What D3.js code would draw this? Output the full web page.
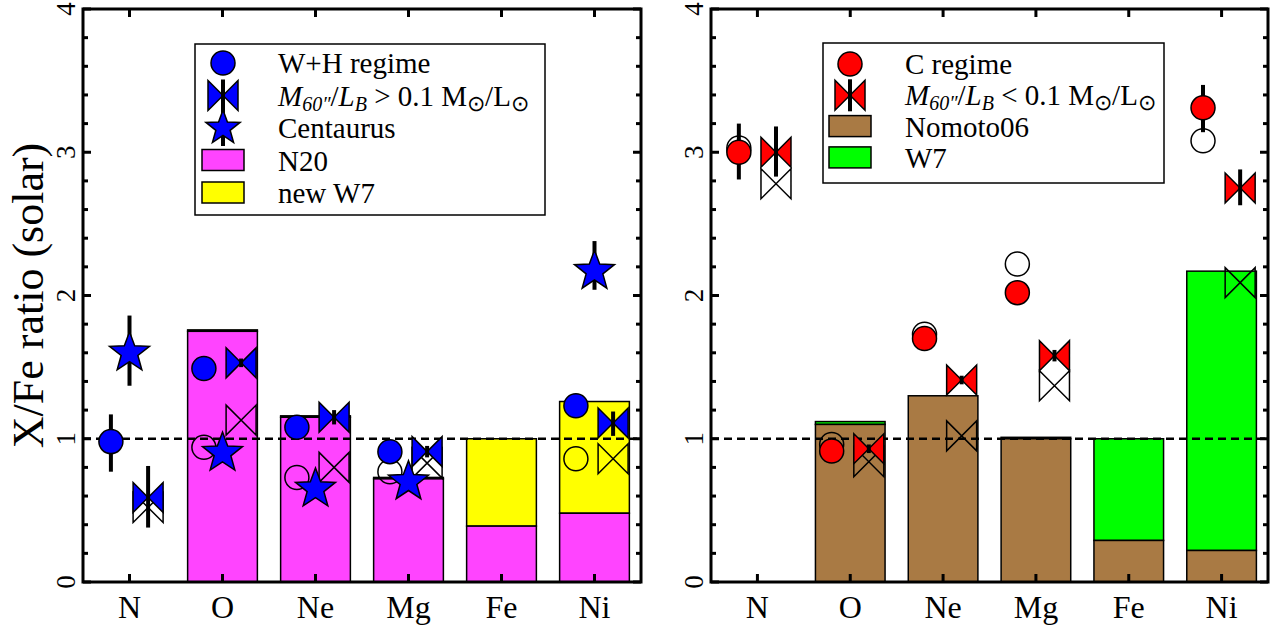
<!DOCTYPE html>
<html>
<head>
<meta charset="utf-8">
<title>X/Fe ratio</title>
<style>
  body { margin: 0; background: #fff; }
  text { font-family: "Liberation Serif", "Times New Roman", serif; fill: #000; }
</style>
</head>
<body>
<script src="https://cdnjs.cloudflare.com/ajax/libs/d3/7.8.5/d3.min.js"></script>
<script>
// categories and ticks
var elements = ["N", "O", "Ne", "Mg", "Fe", "Ni"];
var yTicks = [0, 1, 2, 3, 4];

// left panel: W+H regime, high M/L, Centaurus, N20 + new W7
var whCircle   = [0.98, 1.49, 1.08, 0.91, null, 1.23];
var whCircleLo = [0.77, 1.46, 1.05, 0.88, null, 1.20];
var whCircleHi = [1.17, 1.52, 1.11, 0.94, null, 1.26];
var whOpen     = [null, 0.94, 0.73, 0.77, null, 0.86];
var hiBow      = [0.59, 1.53, 1.15, 0.91, null, 1.11];
var hiBowLo    = [0.38, 1.50, 1.10, 0.87, null, 1.02];
var hiBowHi    = [0.81, 1.56, 1.20, 0.95, null, 1.19];
var hiBowOpen  = [0.52, 1.13, 0.80, 0.83, null, 0.86];
var centaurus   = [1.60, 0.90, 0.65, 0.70, null, 2.17];
var centaurusLo = [1.37, 0.86, 0.61, 0.66, null, 2.04];
var centaurusHi = [1.86, 0.94, 0.69, 0.74, null, 2.38];
var n20   = [null, 1.75, 1.15, 0.72, 0.39, 0.48];
var newW7 = [null, 1.76, 1.16, 0.73, 1.00, 1.26];

// right panel: C regime, low M/L, Nomoto06 + W7
var cCircle   = [3.00, 0.915, 1.70, 2.02, null, 3.31];
var cCircleLo = [2.81, 0.89, 1.68, 2.00, null, 3.14];
var cCircleHi = [3.20, 0.94, 1.72, 2.04, null, 3.47];
var cOpen     = [3.03, 0.96, 1.73, 2.22, null, 3.08];
var loBow     = [3.00, 0.93, 1.41, 1.58, null, 2.75];
var loBowLo   = [2.83, 0.90, 1.38, 1.54, null, 2.63];
var loBowHi   = [3.18, 0.96, 1.44, 1.62, null, 2.88];
var loBowOpen = [2.78, 0.84, 1.02, 1.37, null, 2.09];
var nomoto06 = [null, 1.10, 1.30, 1.00, 0.29, 0.22];
var w7       = [null, 1.12, 1.30, 1.01, 1.00, 2.17];

var W = 1282, H = 632;
var plotTop = 9, plotBottom = 582;

var svg = d3.select("body").append("svg")
    .attr("width", W).attr("height", H);

var y = d3.scaleLinear().domain([0, 4]).range([plotBottom, plotTop]);

function bowPath(s) {
  return "M" + (-s) + "," + (-s) + "L" + s + "," + s + "L" + s + "," + (-s) +
         "L" + (-s) + "," + s + "Z";
}
function starPath(R, r) {
  var p = [];
  for (var i = 0; i < 10; i++) {
    var a = -Math.PI / 2 + i * Math.PI / 5, rr = i % 2 ? r : R;
    p.push([rr * Math.cos(a), rr * Math.sin(a)]);
  }
  return "M" + p.map(function(d){ return d[0].toFixed(2) + "," + d[1].toFixed(2); }).join("L") + "Z";
}

function drawPanel(x0, x1, cfg) {
  var x = d3.scaleLinear().domain([0.5, 6.5]).range([x0, x1]);
  var bw = x(0.75) - x(0);
  var g = svg.append("g");

  // stacked bars: lower part then upper part
  elements.forEach(function(el, i) {
    if (cfg.low[i] == null) return;
    var cx = x(i + 1);
    g.append("rect").attr("x", cx - bw / 2).attr("width", bw)
      .attr("y", y(cfg.total[i])).attr("height", y(cfg.low[i]) - y(cfg.total[i]))
      .attr("fill", cfg.topColor).attr("stroke", "#000").attr("stroke-width", 1.5);
    g.append("rect").attr("x", cx - bw / 2).attr("width", bw)
      .attr("y", y(cfg.low[i])).attr("height", y(0) - y(cfg.low[i]))
      .attr("fill", cfg.lowColor).attr("stroke", "#000").attr("stroke-width", 1.5);
  });

  // dashed line at 1
  g.append("line").attr("x1", x0).attr("x2", x1).attr("y1", y(1)).attr("y2", y(1))
    .attr("stroke", "#000").attr("stroke-width", 2.5).attr("stroke-dasharray", "8,5");

  var dx = x(1.2) - x(1);

  // open symbols
  elements.forEach(function(el, i) {
    var cx = x(i + 1);
    if (cfg.openCircle[i] != null)
      g.append("circle").attr("cx", cx - dx).attr("cy", y(cfg.openCircle[i])).attr("r", 12)
        .attr("fill", "none").attr("stroke", "#000").attr("stroke-width", 1.5);
    if (cfg.openBow[i] != null)
      g.append("path").attr("d", bowPath(15))
        .attr("transform", "translate(" + (cx + dx) + "," + y(cfg.openBow[i]) + ")")
        .attr("fill", "none").attr("stroke", "#000").attr("stroke-width", 1.5);
  });

  // filled symbols with error bars
  elements.forEach(function(el, i) {
    var cx = x(i + 1);
    if (cfg.circle[i] != null) {
      g.append("line").attr("x1", cx - dx).attr("x2", cx - dx)
        .attr("y1", y(cfg.circleLo[i])).attr("y2", y(cfg.circleHi[i]))
        .attr("stroke", "#000").attr("stroke-width", 4);
      g.append("circle").attr("cx", cx - dx).attr("cy", y(cfg.circle[i])).attr("r", 12)
        .attr("fill", cfg.color).attr("stroke", "#000").attr("stroke-width", 1.5);
    }
    if (cfg.bow[i] != null) {
      g.append("path").attr("d", bowPath(15))
        .attr("transform", "translate(" + (cx + dx) + "," + y(cfg.bow[i]) + ")")
        .attr("fill", cfg.color).attr("stroke", "#000").attr("stroke-width", 1.5);
      g.append("line").attr("x1", cx + dx).attr("x2", cx + dx)
        .attr("y1", y(cfg.bowLo[i])).attr("y2", y(cfg.bowHi[i]))
        .attr("stroke", "#000").attr("stroke-width", 4);
    }
    if (cfg.star && cfg.star[i] != null) {
      g.append("line").attr("x1", cx).attr("x2", cx)
        .attr("y1", y(cfg.starLo[i])).attr("y2", y(cfg.starHi[i]))
        .attr("stroke", "#000").attr("stroke-width", 4);
      g.append("path").attr("d", starPath(21, 8.8))
        .attr("transform", "translate(" + cx + "," + y(cfg.star[i]) + ")")
        .attr("fill", cfg.color).attr("stroke", "#000").attr("stroke-width", 1.5);
    }
  });

  // frame and ticks
  var minor = d3.range(0, 4.001, 0.2);
  minor.forEach(function(v) {
    var major = Math.abs(v - Math.round(v)) < 1e-6;
    var len = major ? 8 : 5;
    g.append("line").attr("x1", x0).attr("x2", x0 + len).attr("y1", y(v)).attr("y2", y(v))
      .attr("stroke", "#000").attr("stroke-width", 3);
    g.append("line").attr("x1", x1).attr("x2", x1 - len).attr("y1", y(v)).attr("y2", y(v))
      .attr("stroke", "#000").attr("stroke-width", 3);
  });
  elements.forEach(function(el, i) {
    var cx = x(i + 1);
    g.append("line").attr("x1", cx).attr("x2", cx).attr("y1", plotBottom).attr("y2", plotBottom - 8)
      .attr("stroke", "#000").attr("stroke-width", 3);
    g.append("line").attr("x1", cx).attr("x2", cx).attr("y1", plotTop).attr("y2", plotTop + 8)
      .attr("stroke", "#000").attr("stroke-width", 3);
    g.append("text").attr("x", cx).attr("y", 618).attr("text-anchor", "middle")
      .style("font-size", "32px").text(el);
  });
  g.append("rect").attr("x", x0).attr("y", plotTop).attr("width", x1 - x0).attr("height", plotBottom - plotTop)
    .attr("fill", "none").attr("stroke", "#000").attr("stroke-width", 3);

  yTicks.forEach(function(v) {
    g.append("text").attr("transform", "translate(" + (x0 - 17) + "," + y(v) + ") rotate(-90)")
      .attr("text-anchor", "middle").attr("dominant-baseline", "central")
      .style("font-size", "27px").text(v);
  });

  // legend
  var lg = g.append("g");
  lg.append("rect").attr("x", cfg.box[0]).attr("y", cfg.box[1])
    .attr("width", cfg.box[2] - cfg.box[0]).attr("height", cfg.box[3] - cfg.box[1])
    .attr("fill", "#fff").attr("stroke", "#000").attr("stroke-width", 1.5);
  cfg.legend.forEach(function(it, k) {
    var ly = cfg.legY + k * cfg.legStep, sx = cfg.legX;
    if (it.type === "circle") {
      lg.append("circle").attr("cx", sx).attr("cy", ly).attr("r", 12)
        .attr("fill", cfg.color).attr("stroke", "#000").attr("stroke-width", 1.5);
    } else if (it.type === "bow") {
      lg.append("path").attr("d", bowPath(15)).attr("transform", "translate(" + sx + "," + ly + ")")
        .attr("fill", cfg.color).attr("stroke", "#000").attr("stroke-width", 1.5);
      lg.append("line").attr("x1", sx).attr("x2", sx).attr("y1", ly - 16).attr("y2", ly + 16)
        .attr("stroke", "#000").attr("stroke-width", 4);
    } else if (it.type === "star") {
      lg.append("line").attr("x1", sx).attr("x2", sx).attr("y1", ly - 18).attr("y2", ly + 18)
        .attr("stroke", "#000").attr("stroke-width", 4);
      lg.append("path").attr("d", starPath(18, 7.5)).attr("transform", "translate(" + sx + "," + ly + ")")
        .attr("fill", cfg.color).attr("stroke", "#000").attr("stroke-width", 1.5);
    } else {
      lg.append("rect").attr("x", sx - 21).attr("y", ly - 11).attr("width", 42).attr("height", 21)
        .attr("fill", it.fill).attr("stroke", "#000").attr("stroke-width", 1.5);
    }
    var t = lg.append("text").attr("x", sx + 55).attr("y", ly + 10).style("font-size", "29px");
    if (it.ml) {
      t.append("tspan").style("font-style", "italic").text("M");
      t.append("tspan").style("font-style", "italic").style("font-size", "20px").attr("dy", 5).text("60\u2033");
      t.append("tspan").attr("dy", -5).text("/");
      t.append("tspan").style("font-style", "italic").text("L");
      t.append("tspan").style("font-style", "italic").style("font-size", "20px").attr("dy", 5).text("B");
      t.append("tspan").attr("dy", -5).text(" " + it.ml + " 0.1 M");
      t.append("tspan").style("font-size", "22px").attr("dy", 5).text("\u2299");
      t.append("tspan").attr("dy", -5).text("/L");
      t.append("tspan").style("font-size", "22px").attr("dy", 5).text("\u2299");
    } else {
      t.text(it.label);
    }
  });
}

drawPanel(83, 641, {
  color: "#0000ff",
  circle: whCircle, circleLo: whCircleLo, circleHi: whCircleHi, openCircle: whOpen,
  bow: hiBow, bowLo: hiBowLo, bowHi: hiBowHi, openBow: hiBowOpen,
  star: centaurus, starLo: centaurusLo, starHi: centaurusHi,
  low: n20, total: newW7, lowColor: "#ff44ff", topColor: "#ffff00",
  box: [195, 44, 545, 215], legX: 223, legY: 63, legStep: 32.5,
  legend: [
    { type: "circle", label: "W+H regime" },
    { type: "bow", ml: ">" },
    { type: "star", label: "Centaurus" },
    { type: "rect", fill: "#ff44ff", label: "N20" },
    { type: "rect", fill: "#ffff00", label: "new W7" }
  ]
});

drawPanel(711, 1268, {
  color: "#ff0000",
  circle: cCircle, circleLo: cCircleLo, circleHi: cCircleHi, openCircle: cOpen,
  bow: loBow, bowLo: loBowLo, bowHi: loBowHi, openBow: loBowOpen,
  star: null,
  low: nomoto06, total: w7, lowColor: "#a97a44", topColor: "#00ff00",
  box: [823, 43, 1164, 183], legX: 850, legY: 64, legStep: 31.3,
  legend: [
    { type: "circle", label: "C regime" },
    { type: "bow", ml: "<" },
    { type: "rect", fill: "#a97a44", label: "Nomoto06" },
    { type: "rect", fill: "#00ff00", label: "W7" }
  ]
});

svg.append("text").attr("transform", "translate(28," + ((plotTop + plotBottom) / 2) + ") rotate(-90)")
  .attr("text-anchor", "middle").attr("dominant-baseline", "central")
  .style("font-size", "44px").text("X/Fe ratio (solar)");
</script>
</body>
</html>
